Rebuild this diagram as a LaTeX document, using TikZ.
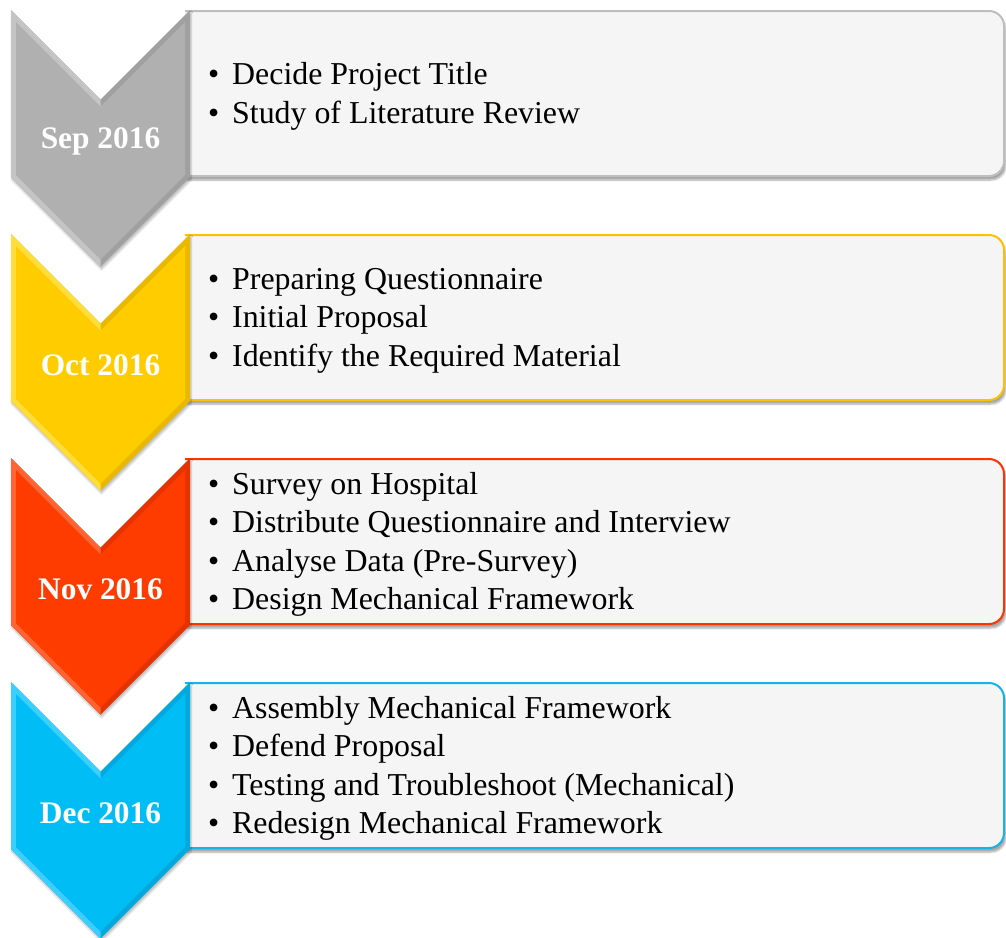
\documentclass[tikz,border=0pt]{standalone}
\usepackage{fontspec}
\setmainfont{Liberation Serif}
\usetikzlibrary{shadows.blur}
\definecolor{gmain}{RGB}{176,176,176}\definecolor{glight}{RGB}{196,196,196}\definecolor{gdark}{RGB}{160,160,160}\definecolor{gbord}{RGB}{190,190,190}
\definecolor{ymain}{RGB}{255,204,0}\definecolor{ylight}{RGB}{255,222,60}\definecolor{ydark}{RGB}{235,184,0}\definecolor{ybord}{RGB}{255,192,0}
\definecolor{rmain}{RGB}{255,60,0}\definecolor{rlight}{RGB}{255,100,50}\definecolor{rdark}{RGB}{228,50,0}\definecolor{rbord}{RGB}{255,51,0}
\definecolor{bmain}{RGB}{0,190,245}\definecolor{blight}{RGB}{60,206,255}\definecolor{bdark}{RGB}{0,170,222}\definecolor{bbord}{RGB}{20,180,230}
\definecolor{boxfill}{RGB}{245,245,245}
\tikzset{
  datelabel/.style={text=white,font=\bfseries\fontsize{31.5}{38}\selectfont,inner sep=0pt},
  itemlist/.style={anchor=west,align=left,inner sep=0pt,font=\fontsize{32}{38.7}\selectfont,text=black},
  boxshape/.style={fill=boxfill,line width=2bp,blur shadow={shadow xshift=2bp,shadow yshift=-4bp,shadow blur steps=6,shadow opacity=35}},
}
\newcommand\bul{\makebox[24bp][l]{\textbullet}}
\begin{document}
\begin{tikzpicture}[x=1bp,y=-1bp]
\useasboundingbox (0,0) rectangle (1006,938);
\foreach \yo/\c/\n/\d/\items in {
  10/g/sep/Sep 2016/{\bul Decide Project Title\\\bul Study of Literature Review},
  234/y/oct/Oct 2016/{\bul Preparing Questionnaire\\\bul Initial Proposal\\\bul Identify the Required Material},
  458/r/nov/Nov 2016/{\bul Survey on Hospital\\\bul Distribute Questionnaire and Interview\\\bul Analyse Data (Pre-Survey)\\\bul Design Mechanical Framework},
  682/b/dec/Dec 2016/{\bul Assembly Mechanical Framework\\\bul Defend Proposal\\\bul Testing and Troubleshoot (Mechanical)\\\bul Redesign Mechanical Framework}}{
  \begin{scope}[shift={(0,\yo)}]
    % box
    \draw[boxshape,draw=\c bord] (185,1) -- (989,1) arc[start angle=-90,end angle=0,radius=15] -- (1004,151) arc[start angle=0,end angle=90,radius=15] -- (185,166);
    % chevron
    \fill[\c dark,blur shadow={shadow xshift=1bp,shadow yshift=-3bp,shadow blur steps=5,shadow opacity=25}] (11,0) -- (100.5,89.5) -- (190,0) -- (190,167) -- (100.5,256.5) -- (11,167) -- cycle;
    \fill[\c light] (11,0) -- (100.5,89.5) -- (100.5,256.5) -- (11,167) -- cycle;
    \fill[\c main] (16,12) -- (100.5,96.5) -- (185,12) -- (185,165) -- (100.5,249.5) -- (16,165) -- cycle;
    \node[datelabel] (d\n) at (100.5,131) {\d};
    \node[itemlist] (t\n) at (208,86.5) {\items};
  \end{scope}
}
\end{tikzpicture}
\end{document}
